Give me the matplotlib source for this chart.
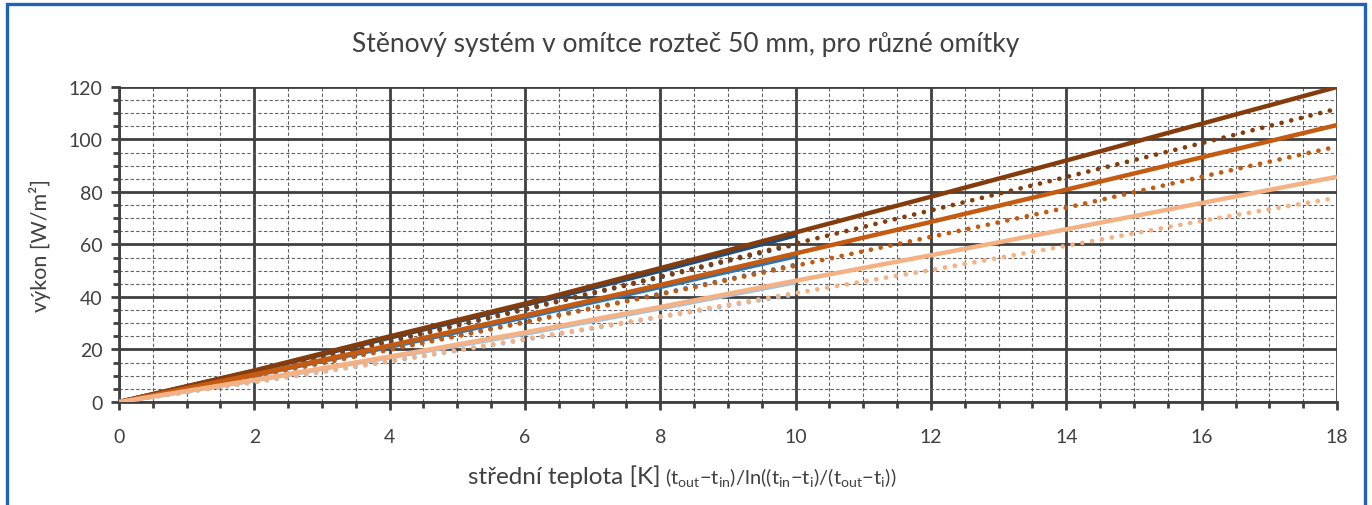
import matplotlib
matplotlib.use("Agg")
import matplotlib.pyplot as plt
from matplotlib.patches import Rectangle
from matplotlib.ticker import MultipleLocator

plt.rcParams['font.family'] = ['Lato', 'DejaVu Sans']
plt.rcParams['mathtext.fontset'] = 'custom'
plt.rcParams['mathtext.rm'] = 'Lato'
plt.rcParams['mathtext.it'] = 'Lato'

title = "Stěnový systém v omítce rozteč 50 mm, pro různé omítky"
ylabel = "výkon [W/m²]"
xlabel_main = "střední teplota [K]"
xlabel_formula = r"$\mathregular{(t_{out}{-}t_{in})/ln((t_{in}{-}t_i)/(t_{out}{-}t_i))}$"

x_long = [0, 2, 4, 6, 8, 10, 12, 14, 16, 18]
x_short = [0, 2, 4, 6, 8, 10]

# blue series (0-10 K)
blue_dark_solid = [0, 11.8, 24.5, 37.0, 50.0, 63.5]
blue_mid_solid = [0, 10.2, 21.0, 32.3, 43.8, 55.5]
blue_light_solid = [0, 8.2, 17.0, 26.0, 35.7, 45.6]
blue_dark_dot = [0, 11.2, 23.0, 35.2, 47.5, 60.0]
blue_mid_dot = [0, 9.8, 20.0, 30.5, 41.2, 52.3]
blue_light_dot = [0, 7.5, 15.4, 23.7, 32.3, 41.0]

# brown series (0-18 K)
brown_dark_solid = [0, 12.0, 25.0, 37.5, 51.0, 64.6, 78.2, 92.0, 106.0, 120.0]
brown_dark_dot = [0, 11.3, 23.3, 35.5, 47.8, 60.4, 73.0, 85.7, 98.6, 111.7]
orange_solid = [0, 10.5, 21.5, 33.0, 44.6, 56.6, 68.6, 80.9, 93.2, 105.5]
orange_dot = [0, 9.7, 19.9, 30.3, 41.0, 51.9, 62.9, 74.0, 85.8, 97.3]
peach_solid = [0, 8.4, 17.3, 26.5, 36.2, 46.2, 55.9, 65.8, 75.8, 85.8]
peach_dot = [0, 7.6, 15.6, 24.0, 32.6, 41.5, 50.3, 59.5, 69.0, 77.8]

fig = plt.figure(figsize=(13.72, 5.06), dpi=100)
ax = fig.add_axes([0.0867, 0.2036, 0.8878, 0.6225])

dot = (0, (0.01, 2.1))
lw_s = 3.2
lw_d = 3.4
series_blue = [
    (blue_dark_solid, '#1F4E79', '-'), (blue_mid_solid, '#2E75B6', '-'), (blue_light_solid, '#9DC3E6', '-'),
    (blue_dark_dot, '#1F4E79', dot), (blue_mid_dot, '#2E75B6', dot), (blue_light_dot, '#9DC3E6', dot),
]
for ys, c, ls in series_blue:
    ax.plot(x_short, ys, color=c, linestyle=ls, lw=lw_s if ls == '-' else lw_d,
            solid_capstyle='butt', dash_capstyle='round', zorder=3)
series_brown = [
    (brown_dark_dot, '#843C0C', dot), (orange_dot, '#C55A11', dot), (peach_dot, '#F4B183', dot),
    (brown_dark_solid, '#843C0C', '-'), (orange_solid, '#C55A11', '-'), (peach_solid, '#F4B183', '-'),
]
for ys, c, ls in series_brown:
    ax.plot(x_long, ys, color=c, linestyle=ls,
            lw=lw_s if ls == '-' else lw_d, solid_capstyle='butt', dash_capstyle='round', zorder=4)

ax.set_xlim(0, 18)
ax.set_ylim(0, 120)
ax.xaxis.set_major_locator(MultipleLocator(2))
ax.xaxis.set_minor_locator(MultipleLocator(0.5))
ax.yaxis.set_major_locator(MultipleLocator(20))
ax.yaxis.set_minor_locator(MultipleLocator(5))

ax.grid(which='major', color='#404040', lw=2.0, zorder=1)
ax.grid(which='minor', color='#606060', lw=0.8, linestyle=(0, (3, 2)), zorder=1)
ax.set_axisbelow(True)

for s in ['left', 'bottom', 'right', 'top']:
    ax.spines[s].set_color('#404040')
    ax.spines[s].set_linewidth(2.0)
ax.spines['top'].set_visible(False)
ax.spines['right'].set_visible(False)

ax.tick_params(which='major', direction='out', length=6, width=2.0, color='#404040',
               labelsize=14, labelcolor='#404040')
ax.tick_params(which='minor', direction='out', length=4, width=2.0, color='#404040')
ax.tick_params(axis='y', which='major', pad=6)
ax.tick_params(axis='x', which='major', pad=13)

fig.text(0.5, 0.913, title, ha='center', va='center', fontsize=19, color='#404040')
fig.text(0.029, 0.515, ylabel, ha='center', va='center', rotation=90, fontsize=15.5, color='#404040')
fig.text(0.4815, 0.043, xlabel_main, ha='right', va='baseline', fontsize=17.5, color='#404040')
fig.text(0.4850, 0.043, xlabel_formula, ha='left', va='baseline', fontsize=14.5, color='#404040')

border = Rectangle((7 / 1372, -0.05), (1365 - 7) / 1372, 1.05 - 4.5 / 506, transform=fig.transFigure,
                   fill=False, edgecolor='#1F63B8', lw=2.4, clip_on=False)
fig.patches.append(border)

fig.savefig('out.png', dpi=100)
